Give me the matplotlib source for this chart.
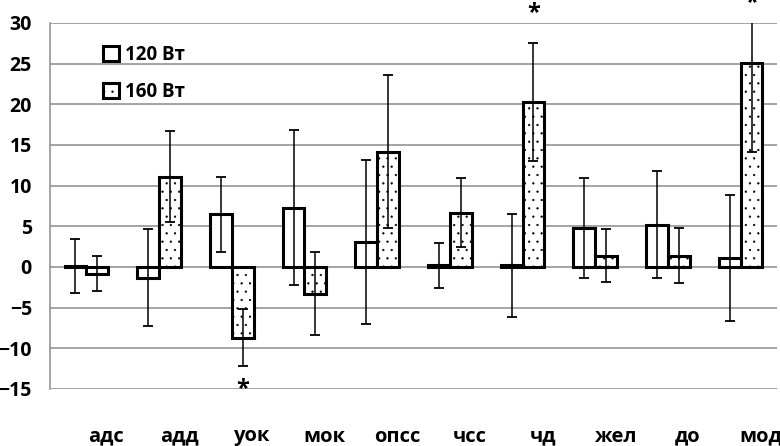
import numpy as np
import matplotlib
matplotlib.use('Agg')
import matplotlib.pyplot as plt
import matplotlib.transforms as mtransforms

plt.rcParams['font.family'] = ['Open Sans', 'DejaVu Sans']
plt.rcParams['hatch.linewidth'] = 0.4

# Показатели и изменения (%) при нагрузке 120 и 160 Вт
kategorii = ['адс', 'адд', 'уок', 'мок', 'опсс', 'чсс', 'чд', 'жел', 'до', 'мод']
vt120 = [0.1, -1.3, 6.5, 7.3, 3.1, 0.2, 0.2, 4.8, 5.2, 1.1]
err120 = [3.3, 6.0, 4.6, 9.5, 10.1, 2.8, 6.35, 6.15, 6.55, 7.7]
vt160 = [-0.8, 11.1, -8.7, -3.3, 14.2, 6.7, 20.3, 1.4, 1.4, 25.1]
err160 = [2.15, 5.6, 3.5, 5.1, 9.4, 4.2, 7.3, 3.25, 3.35, 10.9]
# достоверные различия (*) для 160 Вт: индекс -> уровень звёздочки
zvezdy = {2: -15.0, 6: 31.2, 9: 32.5}

fig = plt.figure(figsize=(7.8, 4.46), dpi=100)
ax = fig.add_axes([50 / 780, 1 - 389 / 446, 727 / 780, 366 / 446])

x = np.arange(len(kategorii))
w = 0.3

ax.bar(x - w / 2, vt120, w, color='white', edgecolor='black', linewidth=2.2,
       label='120 Вт', zorder=3)
ax.bar(x + w / 2, vt160, w, color='white', edgecolor='black', linewidth=2.2,
       hatch='..', label='160 Вт', zorder=3)
ax.errorbar(x - w / 2, vt120, yerr=err120, fmt='none', ecolor='black',
            elinewidth=1.1, capsize=3.6, capthick=1.3, zorder=4)
ax.errorbar(x + w / 2, vt160, yerr=err160, fmt='none', ecolor='black',
            elinewidth=1.1, capsize=3.6, capthick=1.3, zorder=4)

for i, yz in zvezdy.items():
    ax.text(x[i] + w / 2, yz, '*', ha='center', va='center', fontsize=17,
            fontweight='bold', clip_on=False, zorder=5)

ax.set_xlim(-0.5, len(kategorii) - 0.5)
ax.set_ylim(-15, 30)
ax.set_yticks(np.arange(-15, 31, 5))
ax.yaxis.grid(True, color='#8c8c8c', linewidth=1.1, zorder=0)
ax.set_axisbelow(True)
for s in ['top', 'right', 'bottom']:
    ax.spines[s].set_visible(False)
ax.spines['left'].set_color('#8c8c8c')
ax.spines['left'].set_linewidth(1.1)

ax.set_xticks(x)
ax.set_xticklabels(kategorii, fontsize=14.5, fontweight='bold')
ax.tick_params(axis='x', length=0, pad=27)
ax.tick_params(axis='y', length=0, pad=13, labelsize=14)
for t in ax.get_yticklabels():
    t.set_fontweight('bold')
sdvig = mtransforms.ScaledTranslation(0.2, 0, fig.dpi_scale_trans)
for t in ax.get_xticklabels():
    t.set_transform(t.get_transform() + sdvig)

ax.legend(loc='upper left', bbox_to_anchor=(0.05, 0.985), frameon=False,
          prop={'size': 13.5, 'weight': 'bold'}, handlelength=0.85,
          handleheight=0.85, handletextpad=0.3, labelspacing=0.9)

fig.savefig('out.png', dpi=100)
